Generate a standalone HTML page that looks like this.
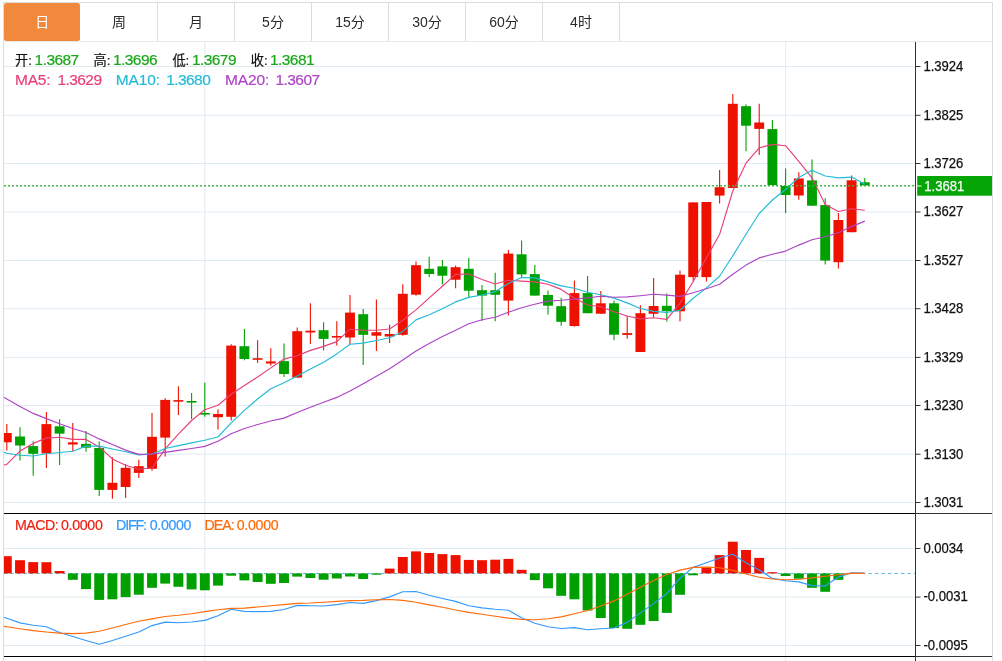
<!DOCTYPE html>
<html lang="zh-CN"><head><meta charset="utf-8"><title>K线图</title>
<style>
html,body{margin:0;padding:0;background:#fff;}
body{width:1002px;height:661px;position:relative;overflow:hidden;font-family:"Liberation Sans","Noto Sans CJK SC",sans-serif;}
.tabs{position:absolute;left:3px;top:2px;width:988px;height:38px;border:1px solid #dddddd;border-bottom-color:#e8e8e8;background:#fff;}
.tab{position:absolute;top:0;height:38px;width:76px;line-height:39px;text-align:center;font-size:14px;color:#2b2b2b;border-right:1px solid #dcdcdc;}
.tab.on{background:#f1893d;color:#fff;border-radius:2.5px;border-right:none;width:76.4px;top:0px;}
.chart{position:absolute;left:0;top:0;}
</style></head><body>
<div class="tabs"><div class="tab on" style="left:0px">日</div><div class="tab" style="left:77px">周</div><div class="tab" style="left:154px">月</div><div class="tab" style="left:231px">5分</div><div class="tab" style="left:308px">15分</div><div class="tab" style="left:385px">30分</div><div class="tab" style="left:462px">60分</div><div class="tab" style="left:539px">4时</div></div>
<svg class="chart" width="1002" height="661" viewBox="0 0 1002 661">
<defs><clipPath id="clipMain"><rect x="4" y="42" width="911.5" height="471"/></clipPath><clipPath id="clipSub"><rect x="4" y="514" width="911.5" height="142"/></clipPath></defs>
<g stroke="#e0ecf3" stroke-width="1" fill="none">
<line x1="4" y1="66.5" x2="915" y2="66.5"/>
<line x1="4" y1="115.3" x2="915" y2="115.3"/>
<line x1="4" y1="163.5" x2="915" y2="163.5"/>
<line x1="4" y1="212" x2="915" y2="212"/>
<line x1="4" y1="260.5" x2="915" y2="260.5"/>
<line x1="4" y1="308.7" x2="915" y2="308.7"/>
<line x1="4" y1="357.4" x2="915" y2="357.4"/>
<line x1="4" y1="405.5" x2="915" y2="405.5"/>
<line x1="4" y1="454.2" x2="915" y2="454.2"/>
<line x1="4" y1="502.5" x2="915" y2="502.5"/>
<line x1="4" y1="548.5" x2="915" y2="548.5"/>
<line x1="4" y1="597.1" x2="915" y2="597.1"/>
<line x1="4" y1="645.5" x2="915" y2="645.5"/>
<line x1="204.8" y1="42" x2="204.8" y2="661"/>
<line x1="785.6" y1="42" x2="785.6" y2="661"/>
</g>
<line x1="3.5" y1="42" x2="3.5" y2="661" stroke="#dcdcdc" stroke-width="1"/>
<line x1="992.5" y1="42" x2="992.5" y2="661" stroke="#dcdcdc" stroke-width="1"/>
<line x1="4" y1="573.5" x2="915" y2="573.5" stroke="#5cb9e7" stroke-width="1" stroke-dasharray="3.3 3.2"/>
<g clip-path="url(#clipSub)">
<rect x="1.85" y="556.2" width="9.9" height="17.2" fill="#ee1100"/>
<rect x="15.05" y="560.2" width="9.9" height="13.2" fill="#ee1100"/>
<rect x="28.25" y="562.1" width="9.9" height="11.3" fill="#ee1100"/>
<rect x="41.45" y="562.2" width="9.9" height="11.2" fill="#ee1100"/>
<rect x="54.65" y="571" width="9.9" height="2.4" fill="#ee1100"/>
<rect x="67.85" y="573.4" width="9.9" height="6.4" fill="#00a000"/>
<rect x="81.05" y="573.4" width="9.9" height="15.7" fill="#00a000"/>
<rect x="94.25" y="573.4" width="9.9" height="26.5" fill="#00a000"/>
<rect x="107.45" y="573.4" width="9.9" height="25.9" fill="#00a000"/>
<rect x="120.65" y="573.4" width="9.9" height="23.7" fill="#00a000"/>
<rect x="133.85" y="573.4" width="9.9" height="21.3" fill="#00a000"/>
<rect x="147.05" y="573.4" width="9.9" height="14.4" fill="#00a000"/>
<rect x="160.25" y="573.4" width="9.9" height="10.2" fill="#00a000"/>
<rect x="173.45" y="573.4" width="9.9" height="13.4" fill="#00a000"/>
<rect x="186.65" y="573.4" width="9.9" height="16" fill="#00a000"/>
<rect x="199.85" y="573.4" width="9.9" height="16.9" fill="#00a000"/>
<rect x="213.05" y="573.4" width="9.9" height="12.2" fill="#00a000"/>
<rect x="226.25" y="573.4" width="9.9" height="2.3" fill="#00a000"/>
<rect x="239.45" y="573.4" width="9.9" height="7" fill="#00a000"/>
<rect x="252.65" y="573.4" width="9.9" height="8.6" fill="#00a000"/>
<rect x="265.85" y="573.4" width="9.9" height="10.4" fill="#00a000"/>
<rect x="279.05" y="573.4" width="9.9" height="9.6" fill="#00a000"/>
<rect x="292.25" y="573.4" width="9.9" height="3.2" fill="#00a000"/>
<rect x="305.45" y="573.4" width="9.9" height="4.6" fill="#00a000"/>
<rect x="318.65" y="573.4" width="9.9" height="6.3" fill="#00a000"/>
<rect x="331.85" y="573.4" width="9.9" height="5.1" fill="#00a000"/>
<rect x="345.05" y="573.4" width="9.9" height="3.1" fill="#00a000"/>
<rect x="358.25" y="573.4" width="9.9" height="5.6" fill="#00a000"/>
<rect x="371.45" y="573.4" width="9.9" height="1.3" fill="#00a000"/>
<rect x="384.65" y="568.6" width="9.9" height="4.8" fill="#ee1100"/>
<rect x="397.85" y="557" width="9.9" height="16.4" fill="#ee1100"/>
<rect x="411.05" y="551.4" width="9.9" height="22" fill="#ee1100"/>
<rect x="424.25" y="553" width="9.9" height="20.4" fill="#ee1100"/>
<rect x="437.45" y="554.1" width="9.9" height="19.3" fill="#ee1100"/>
<rect x="450.65" y="555.1" width="9.9" height="18.3" fill="#ee1100"/>
<rect x="463.85" y="559.9" width="9.9" height="13.5" fill="#ee1100"/>
<rect x="477.05" y="560.2" width="9.9" height="13.2" fill="#ee1100"/>
<rect x="490.25" y="559.7" width="9.9" height="13.7" fill="#ee1100"/>
<rect x="503.45" y="558.9" width="9.9" height="14.5" fill="#ee1100"/>
<rect x="516.65" y="569.8" width="9.9" height="3.6" fill="#ee1100"/>
<rect x="529.85" y="573.4" width="9.9" height="6.7" fill="#00a000"/>
<rect x="543.05" y="573.4" width="9.9" height="14.9" fill="#00a000"/>
<rect x="556.25" y="573.4" width="9.9" height="22.4" fill="#00a000"/>
<rect x="569.45" y="573.4" width="9.9" height="25.9" fill="#00a000"/>
<rect x="582.65" y="573.4" width="9.9" height="37.1" fill="#00a000"/>
<rect x="595.85" y="573.4" width="9.9" height="44.6" fill="#00a000"/>
<rect x="609.05" y="573.4" width="9.9" height="54.6" fill="#00a000"/>
<rect x="622.25" y="573.4" width="9.9" height="55.4" fill="#00a000"/>
<rect x="635.45" y="573.4" width="9.9" height="51.4" fill="#00a000"/>
<rect x="648.65" y="573.4" width="9.9" height="47.6" fill="#00a000"/>
<rect x="661.85" y="573.4" width="9.9" height="39.5" fill="#00a000"/>
<rect x="675.05" y="573.4" width="9.9" height="21.4" fill="#00a000"/>
<rect x="688.25" y="573.4" width="9.9" height="1.9" fill="#00a000"/>
<rect x="701.45" y="567.6" width="9.9" height="5.8" fill="#ee1100"/>
<rect x="714.65" y="555.1" width="9.9" height="18.3" fill="#ee1100"/>
<rect x="727.85" y="541.7" width="9.9" height="31.7" fill="#ee1100"/>
<rect x="741.05" y="550" width="9.9" height="23.4" fill="#ee1100"/>
<rect x="754.25" y="557.9" width="9.9" height="15.5" fill="#ee1100"/>
<rect x="767.45" y="572.2" width="9.9" height="1.2" fill="#ee1100"/>
<rect x="780.65" y="573.4" width="9.9" height="2.6" fill="#00a000"/>
<rect x="793.85" y="573.4" width="9.9" height="5.3" fill="#00a000"/>
<rect x="807.05" y="573.4" width="9.9" height="14.4" fill="#00a000"/>
<rect x="820.25" y="573.4" width="9.9" height="18.4" fill="#00a000"/>
<rect x="833.45" y="573.4" width="9.9" height="6.4" fill="#00a000"/>
<rect x="846.65" y="572.9" width="9.9" height="0.5" fill="#ee1100"/>
<polyline points="-6.4,613.7 6.8,618.3 20,622.9 33.2,625.3 46.4,626.8 59.6,632.5 72.8,636.5 86,640.5 99.2,644.3 112.4,640.5 125.6,636.3 138.8,632 152,625.6 165.2,622.1 178.4,622.8 191.6,622 204.8,620.4 218,615.7 231.2,609.2 244.4,611.4 257.6,611.6 270.8,611.4 284,609.5 297.2,605.4 310.4,605.7 323.6,606 336.8,604.6 350,602.5 363.2,603.4 376.4,600.6 389.6,596.9 402.8,591.8 416,591.5 429.2,595.3 442.4,598.5 455.6,601.4 468.8,605.7 482,607.9 495.2,609.2 508.4,610.2 521.6,617.7 534.8,623.2 548,626.8 561.2,628.5 574.4,627.6 587.6,629.8 600.8,628.8 614,628 627.2,622.4 640.4,612.9 653.6,603.6 666.8,593.7 680,578.2 693.2,567.4 706.4,562.8 719.6,558 732.8,554.3 746,562.7 759.2,570 772.4,578.4 785.6,580.8 798.8,581.9 812,585.6 825.2,585.9 838.4,577.1 851.6,572.8 864.8,573.1" fill="none" stroke="#3399ff" stroke-width="1.15" stroke-linejoin="round"/>
<polyline points="-6.4,624.8 6.8,626.8 20,628.8 33.2,630.6 46.4,632 59.6,633.1 72.8,633.6 86,633.1 99.2,631.2 112.4,628 125.6,624.5 138.8,621.3 152,618.9 165.2,616.5 178.4,615.3 191.6,613.7 204.8,611.6 218,609.7 231.2,608.4 244.4,608.1 257.6,607 270.8,605.7 284,604.6 297.2,603.4 310.4,603 323.6,602.2 336.8,601.4 350,600.6 363.2,600.4 376.4,599.8 389.6,599.5 402.8,600.4 416,602.2 429.2,604.9 442.4,607.3 455.6,610 468.8,612.4 482,614.3 495.2,616.2 508.4,618.1 521.6,619.4 534.8,619.7 548,618.8 561.2,616.9 574.4,613.8 587.6,610.5 600.8,606 614,600.9 627.2,594.2 640.4,587.3 653.6,580.4 666.8,574.5 680,570.1 693.2,567.4 706.4,567.1 719.6,567.8 732.8,570.4 746,574 759.2,577.2 772.4,579 785.6,579.7 798.8,579.2 812,577.9 825.2,576.3 838.4,574.7 851.6,573.4 864.8,573.4" fill="none" stroke="#ff6a0a" stroke-width="1.15" stroke-linejoin="round"/>
</g>
<g clip-path="url(#clipMain)">
<line x1="6.8" y1="424.1" x2="6.8" y2="450.6" stroke="#ee1100" stroke-width="1.1"/>
<rect x="1.85" y="433" width="9.9" height="9.3" fill="#ee1100"/>
<line x1="20" y1="427.3" x2="20" y2="460.5" stroke="#00a000" stroke-width="1.1"/>
<rect x="15.05" y="436.5" width="9.9" height="9" fill="#00a000"/>
<line x1="33.2" y1="441.3" x2="33.2" y2="475.8" stroke="#00a000" stroke-width="1.1"/>
<rect x="28.25" y="446.1" width="9.9" height="7.7" fill="#00a000"/>
<line x1="46.4" y1="411.9" x2="46.4" y2="468.1" stroke="#ee1100" stroke-width="1.1"/>
<rect x="41.45" y="424.1" width="9.9" height="29.3" fill="#ee1100"/>
<line x1="59.6" y1="419.3" x2="59.6" y2="464.9" stroke="#00a000" stroke-width="1.1"/>
<rect x="54.65" y="426.3" width="9.9" height="7.3" fill="#00a000"/>
<line x1="72.8" y1="422.9" x2="72.8" y2="451.2" stroke="#ee1100" stroke-width="1.1"/>
<rect x="67.85" y="442.3" width="9.9" height="2.2" fill="#ee1100"/>
<line x1="86" y1="430.9" x2="86" y2="451.8" stroke="#00a000" stroke-width="1.1"/>
<rect x="81.05" y="443.9" width="9.9" height="3.8" fill="#00a000"/>
<line x1="99.2" y1="441.6" x2="99.2" y2="495.9" stroke="#00a000" stroke-width="1.1"/>
<rect x="94.25" y="448" width="9.9" height="41.9" fill="#00a000"/>
<line x1="112.4" y1="457.3" x2="112.4" y2="498.8" stroke="#ee1100" stroke-width="1.1"/>
<rect x="107.45" y="482.8" width="9.9" height="7.1" fill="#ee1100"/>
<line x1="125.6" y1="464" x2="125.6" y2="498" stroke="#ee1100" stroke-width="1.1"/>
<rect x="120.65" y="467.8" width="9.9" height="19.2" fill="#ee1100"/>
<line x1="138.8" y1="459.8" x2="138.8" y2="478" stroke="#ee1100" stroke-width="1.1"/>
<rect x="133.85" y="466.2" width="9.9" height="6.7" fill="#ee1100"/>
<line x1="152" y1="412.9" x2="152" y2="470.7" stroke="#ee1100" stroke-width="1.1"/>
<rect x="147.05" y="436.8" width="9.9" height="32" fill="#ee1100"/>
<line x1="165.2" y1="398.2" x2="165.2" y2="456.4" stroke="#ee1100" stroke-width="1.1"/>
<rect x="160.25" y="399.9" width="9.9" height="37.7" fill="#ee1100"/>
<line x1="178.4" y1="386.2" x2="178.4" y2="414.9" stroke="#ee1100" stroke-width="1.1"/>
<rect x="173.45" y="400.1" width="9.9" height="1.6" fill="#ee1100"/>
<line x1="191.6" y1="393" x2="191.6" y2="418.9" stroke="#00a000" stroke-width="1.1"/>
<rect x="186.65" y="401" width="9.9" height="1.6" fill="#00a000"/>
<line x1="204.8" y1="382.7" x2="204.8" y2="416.8" stroke="#00a000" stroke-width="1.1"/>
<rect x="199.85" y="413" width="9.9" height="1.6" fill="#00a000"/>
<line x1="218" y1="409.2" x2="218" y2="429.6" stroke="#ee1100" stroke-width="1.1"/>
<rect x="213.05" y="414" width="9.9" height="3.2" fill="#ee1100"/>
<line x1="231.2" y1="344.3" x2="231.2" y2="420.5" stroke="#ee1100" stroke-width="1.1"/>
<rect x="226.25" y="345.6" width="9.9" height="71.2" fill="#ee1100"/>
<line x1="244.4" y1="329.1" x2="244.4" y2="360.3" stroke="#00a000" stroke-width="1.1"/>
<rect x="239.45" y="346.2" width="9.9" height="12.8" fill="#00a000"/>
<line x1="257.6" y1="340.3" x2="257.6" y2="363" stroke="#ee1100" stroke-width="1.1"/>
<rect x="252.65" y="358.2" width="9.9" height="1.6" fill="#ee1100"/>
<line x1="270.8" y1="348.3" x2="270.8" y2="365.8" stroke="#ee1100" stroke-width="1.1"/>
<rect x="265.85" y="361.4" width="9.9" height="2.1" fill="#ee1100"/>
<line x1="284" y1="343.5" x2="284" y2="377" stroke="#00a000" stroke-width="1.1"/>
<rect x="279.05" y="361.1" width="9.9" height="12.9" fill="#00a000"/>
<line x1="297.2" y1="327.5" x2="297.2" y2="377.6" stroke="#ee1100" stroke-width="1.1"/>
<rect x="292.25" y="331.2" width="9.9" height="46.4" fill="#ee1100"/>
<line x1="310.4" y1="303.3" x2="310.4" y2="344" stroke="#ee1100" stroke-width="1.1"/>
<rect x="305.45" y="330.7" width="9.9" height="1.8" fill="#ee1100"/>
<line x1="323.6" y1="322.3" x2="323.6" y2="350.4" stroke="#00a000" stroke-width="1.1"/>
<rect x="318.65" y="330.2" width="9.9" height="8.7" fill="#00a000"/>
<line x1="336.8" y1="321.3" x2="336.8" y2="345.4" stroke="#ee1100" stroke-width="1.1"/>
<rect x="331.85" y="336" width="9.9" height="1.6" fill="#ee1100"/>
<line x1="350" y1="295" x2="350" y2="343.9" stroke="#ee1100" stroke-width="1.1"/>
<rect x="345.05" y="312.6" width="9.9" height="24.9" fill="#ee1100"/>
<line x1="363.2" y1="309.1" x2="363.2" y2="365.1" stroke="#00a000" stroke-width="1.1"/>
<rect x="358.25" y="314.2" width="9.9" height="20.6" fill="#00a000"/>
<line x1="376.4" y1="299.5" x2="376.4" y2="350.9" stroke="#ee1100" stroke-width="1.1"/>
<rect x="371.45" y="332.2" width="9.9" height="3.5" fill="#ee1100"/>
<line x1="389.6" y1="324.7" x2="389.6" y2="342.9" stroke="#ee1100" stroke-width="1.1"/>
<rect x="384.65" y="334" width="9.9" height="2.5" fill="#ee1100"/>
<line x1="402.8" y1="284.2" x2="402.8" y2="335.7" stroke="#ee1100" stroke-width="1.1"/>
<rect x="397.85" y="293.8" width="9.9" height="41" fill="#ee1100"/>
<line x1="416" y1="261.5" x2="416" y2="295.8" stroke="#ee1100" stroke-width="1.1"/>
<rect x="411.05" y="265.2" width="9.9" height="29.5" fill="#ee1100"/>
<line x1="429.2" y1="256.7" x2="429.2" y2="277.1" stroke="#00a000" stroke-width="1.1"/>
<rect x="424.25" y="268.8" width="9.9" height="5.2" fill="#00a000"/>
<line x1="442.4" y1="260.1" x2="442.4" y2="284.6" stroke="#00a000" stroke-width="1.1"/>
<rect x="437.45" y="266.4" width="9.9" height="9.3" fill="#00a000"/>
<line x1="455.6" y1="265.6" x2="455.6" y2="288.3" stroke="#ee1100" stroke-width="1.1"/>
<rect x="450.65" y="267.2" width="9.9" height="12.5" fill="#ee1100"/>
<line x1="468.8" y1="258" x2="468.8" y2="297.1" stroke="#00a000" stroke-width="1.1"/>
<rect x="463.85" y="268.8" width="9.9" height="21.9" fill="#00a000"/>
<line x1="482" y1="285.1" x2="482" y2="321" stroke="#00a000" stroke-width="1.1"/>
<rect x="477.05" y="290.2" width="9.9" height="5.4" fill="#00a000"/>
<line x1="495.2" y1="272.7" x2="495.2" y2="321.3" stroke="#00a000" stroke-width="1.1"/>
<rect x="490.25" y="290.2" width="9.9" height="4.6" fill="#00a000"/>
<line x1="508.4" y1="250" x2="508.4" y2="315.4" stroke="#ee1100" stroke-width="1.1"/>
<rect x="503.45" y="253.6" width="9.9" height="47" fill="#ee1100"/>
<line x1="521.6" y1="240.4" x2="521.6" y2="277.6" stroke="#00a000" stroke-width="1.1"/>
<rect x="516.65" y="254.3" width="9.9" height="20.1" fill="#00a000"/>
<line x1="534.8" y1="265.1" x2="534.8" y2="295.6" stroke="#00a000" stroke-width="1.1"/>
<rect x="529.85" y="274.1" width="9.9" height="21.5" fill="#00a000"/>
<line x1="548" y1="290.4" x2="548" y2="314.6" stroke="#00a000" stroke-width="1.1"/>
<rect x="543.05" y="295" width="9.9" height="10.7" fill="#00a000"/>
<line x1="561.2" y1="297.7" x2="561.2" y2="325.8" stroke="#00a000" stroke-width="1.1"/>
<rect x="556.25" y="306.2" width="9.9" height="15.6" fill="#00a000"/>
<line x1="574.4" y1="280.5" x2="574.4" y2="326.8" stroke="#ee1100" stroke-width="1.1"/>
<rect x="569.45" y="293.1" width="9.9" height="32.9" fill="#ee1100"/>
<line x1="587.6" y1="276" x2="587.6" y2="313.2" stroke="#00a000" stroke-width="1.1"/>
<rect x="582.65" y="293.1" width="9.9" height="20.1" fill="#00a000"/>
<line x1="600.8" y1="291" x2="600.8" y2="313.7" stroke="#ee1100" stroke-width="1.1"/>
<rect x="595.85" y="303.3" width="9.9" height="10.4" fill="#ee1100"/>
<line x1="614" y1="300.4" x2="614" y2="340.3" stroke="#00a000" stroke-width="1.1"/>
<rect x="609.05" y="303.3" width="9.9" height="31.4" fill="#00a000"/>
<line x1="627.2" y1="315.9" x2="627.2" y2="338.7" stroke="#ee1100" stroke-width="1.1"/>
<rect x="622.25" y="333.1" width="9.9" height="1.8" fill="#ee1100"/>
<line x1="640.4" y1="305.3" x2="640.4" y2="352" stroke="#ee1100" stroke-width="1.1"/>
<rect x="635.45" y="313.2" width="9.9" height="38.8" fill="#ee1100"/>
<line x1="653.6" y1="277.9" x2="653.6" y2="317.2" stroke="#ee1100" stroke-width="1.1"/>
<rect x="648.65" y="306" width="9.9" height="7.8" fill="#ee1100"/>
<line x1="666.8" y1="293.5" x2="666.8" y2="321.6" stroke="#00a000" stroke-width="1.1"/>
<rect x="661.85" y="305.8" width="9.9" height="5.3" fill="#00a000"/>
<line x1="680" y1="270.4" x2="680" y2="321.3" stroke="#ee1100" stroke-width="1.1"/>
<rect x="675.05" y="274.7" width="9.9" height="36.6" fill="#ee1100"/>
<line x1="693.2" y1="202.4" x2="693.2" y2="281.4" stroke="#ee1100" stroke-width="1.1"/>
<rect x="688.25" y="202.4" width="9.9" height="74.7" fill="#ee1100"/>
<line x1="706.4" y1="202" x2="706.4" y2="281.4" stroke="#ee1100" stroke-width="1.1"/>
<rect x="701.45" y="202" width="9.9" height="75.1" fill="#ee1100"/>
<line x1="719.6" y1="170" x2="719.6" y2="203.6" stroke="#ee1100" stroke-width="1.1"/>
<rect x="714.65" y="187.2" width="9.9" height="8.4" fill="#ee1100"/>
<line x1="732.8" y1="94.1" x2="732.8" y2="188" stroke="#ee1100" stroke-width="1.1"/>
<rect x="727.85" y="103.8" width="9.9" height="84.2" fill="#ee1100"/>
<line x1="746" y1="104.5" x2="746" y2="151.3" stroke="#00a000" stroke-width="1.1"/>
<rect x="741.05" y="106.2" width="9.9" height="19.5" fill="#00a000"/>
<line x1="759.2" y1="103.8" x2="759.2" y2="154.9" stroke="#ee1100" stroke-width="1.1"/>
<rect x="754.25" y="122.5" width="9.9" height="6.4" fill="#ee1100"/>
<line x1="772.4" y1="120.1" x2="772.4" y2="185.1" stroke="#00a000" stroke-width="1.1"/>
<rect x="767.45" y="129.1" width="9.9" height="56" fill="#00a000"/>
<line x1="785.6" y1="168.4" x2="785.6" y2="213" stroke="#00a000" stroke-width="1.1"/>
<rect x="780.65" y="185.9" width="9.9" height="9.1" fill="#00a000"/>
<line x1="798.8" y1="172.3" x2="798.8" y2="199.7" stroke="#ee1100" stroke-width="1.1"/>
<rect x="793.85" y="178.5" width="9.9" height="17" fill="#ee1100"/>
<line x1="812" y1="159.6" x2="812" y2="205.7" stroke="#00a000" stroke-width="1.1"/>
<rect x="807.05" y="180.4" width="9.9" height="25.3" fill="#00a000"/>
<line x1="825.2" y1="198.2" x2="825.2" y2="264.6" stroke="#00a000" stroke-width="1.1"/>
<rect x="820.25" y="205.1" width="9.9" height="55.5" fill="#00a000"/>
<line x1="838.4" y1="212.9" x2="838.4" y2="268.6" stroke="#ee1100" stroke-width="1.1"/>
<rect x="833.45" y="220" width="9.9" height="42.2" fill="#ee1100"/>
<line x1="851.6" y1="175.5" x2="851.6" y2="232.2" stroke="#ee1100" stroke-width="1.1"/>
<rect x="846.65" y="180.3" width="9.9" height="51.9" fill="#ee1100"/>
<line x1="864.8" y1="177.9" x2="864.8" y2="185.4" stroke="#00a000" stroke-width="1.1"/>
<rect x="859.85" y="182.3" width="9.9" height="3.1" fill="#00a000"/>
<polyline points="-6.4,468.5 6.8,464.3 20,451.1 33.2,443.4 46.4,438.1 59.6,437.3 72.8,439.4 86,439.4 99.2,446.9 112.4,458.9 125.6,465.3 138.8,469.3 152,468 165.2,448.8 178.4,434.1 191.6,420.5 204.8,409.8 218,405.3 231.2,394.2 244.4,385.6 257.6,377 270.8,367.9 284,359.1 297.2,355.8 310.4,350.4 323.6,346.4 336.8,341.6 350,329.2 363.2,330.2 376.4,330.3 389.6,329 402.8,320.3 416,309.9 429.2,297.9 442.4,286.2 455.6,274.4 468.8,274 482,279.5 495.2,284 508.4,280.3 521.6,281.1 534.8,281.9 548,284.3 561.2,289.4 574.4,298.3 587.6,305 600.8,306.8 614,311.8 627.2,316 640.4,318.9 653.6,317.8 666.8,319.4 680,303.1 693.2,281.5 706.4,258 719.6,234.3 732.8,191 746,163.2 759.2,147.8 772.4,144.4 785.6,145.7 798.8,161.4 812,177.8 825.2,204.6 838.4,211.5 851.6,208.8 864.8,210.2" fill="none" stroke="#e83f7a" stroke-width="1.15" stroke-linejoin="round"/>
<polyline points="-6.4,449 6.8,453.2 20,455.2 33.2,456 46.4,453.8 59.6,452.5 72.8,451.2 86,446.1 99.2,446.1 112.4,449 125.6,451.7 138.8,454.9 152,454 165.2,448.5 178.4,445.6 191.6,442.9 204.8,440.2 218,437 231.2,422.9 244.4,410.4 257.6,399 270.8,388.8 284,382.8 297.2,376 310.4,369 323.6,362.2 336.8,353.9 350,344.2 363.2,343.1 376.4,340.5 389.6,337.8 402.8,331.4 416,319.9 429.2,314.7 442.4,308.8 455.6,301.9 468.8,297.4 482,295 495.2,291.6 508.4,283.5 521.6,277.6 534.8,277.9 548,281.9 561.2,285.9 574.4,288.3 587.6,292.3 600.8,294.7 614,298.1 627.2,302.9 640.4,308.5 653.6,311.4 666.8,312.4 680,310.3 693.2,298.3 706.4,287.9 719.6,276.3 732.8,255.8 746,234.3 759.2,213.5 772.4,200 785.6,189.5 798.8,177.5 812,170.3 825.2,176 838.4,177.9 851.6,177.1 864.8,184.3" fill="none" stroke="#22bbd8" stroke-width="1.15" stroke-linejoin="round"/>
<polyline points="-6.4,391.5 6.8,399 20,406.5 33.2,413.4 46.4,418.6 59.6,423.7 72.8,428.5 86,432.5 99.2,438.9 112.4,444.5 125.6,450.1 138.8,454.4 152,454 165.2,452.4 178.4,450.4 191.6,448.5 204.8,446.4 218,441.3 231.2,433.8 244.4,428.5 257.6,424.5 270.8,421 284,418.1 297.2,412.5 310.4,407.2 323.6,402.2 336.8,397.4 350,391 363.2,383.8 376.4,376.3 389.6,368.7 402.8,359.9 416,351 429.2,343.6 442.4,336.6 455.6,330.2 468.8,323.8 482,319.7 495.2,317.2 508.4,312.2 521.6,307.8 534.8,304.3 548,301.1 561.2,300.3 574.4,299 587.6,297.9 600.8,296.3 614,297.3 627.2,296.9 640.4,295.7 653.6,294.3 666.8,295.1 680,296.4 693.2,292.7 706.4,288.7 719.6,284.3 732.8,274.3 746,265.1 759.2,257.9 772.4,254.3 785.6,251.1 798.8,245.1 812,239.8 825.2,236.8 838.4,232.8 851.6,226.6 864.8,221.1" fill="none" stroke="#ae44c6" stroke-width="1.15" stroke-linejoin="round"/>
</g>
<line x1="4.1" y1="185.8" x2="915" y2="185.8" stroke="#3ab53a" stroke-width="1.6" stroke-dasharray="1.9 2.1"/>
<g stroke="#333" stroke-width="1">
<line x1="915.5" y1="42" x2="915.5" y2="661"/>
<line x1="4" y1="513.5" x2="915" y2="513.5" stroke="#000"/>
<line x1="915" y1="513.5" x2="992" y2="513.5"/>
<line x1="4" y1="656.5" x2="915" y2="656.5" stroke="#000"/>
<line x1="915" y1="656.5" x2="992" y2="656.5"/>
<line x1="916" y1="66.5" x2="920.5" y2="66.5"/>
<line x1="916" y1="115.3" x2="920.5" y2="115.3"/>
<line x1="916" y1="163.5" x2="920.5" y2="163.5"/>
<line x1="916" y1="212" x2="920.5" y2="212"/>
<line x1="916" y1="260.5" x2="920.5" y2="260.5"/>
<line x1="916" y1="308.7" x2="920.5" y2="308.7"/>
<line x1="916" y1="357.4" x2="920.5" y2="357.4"/>
<line x1="916" y1="405.5" x2="920.5" y2="405.5"/>
<line x1="916" y1="454.2" x2="920.5" y2="454.2"/>
<line x1="916" y1="502.5" x2="920.5" y2="502.5"/>
<line x1="916" y1="548.5" x2="920.5" y2="548.5"/>
<line x1="916" y1="597.1" x2="920.5" y2="597.1"/>
<line x1="916" y1="645.5" x2="920.5" y2="645.5"/>
</g>
<g font-family="Liberation Sans, sans-serif" font-size="14.3" fill="#111" stroke="#111" stroke-width="0.25">
<text x="923.4" y="70.8" textLength="40" lengthAdjust="spacingAndGlyphs">1.3924</text>
<text x="923.4" y="119.6" textLength="40" lengthAdjust="spacingAndGlyphs">1.3825</text>
<text x="923.4" y="167.8" textLength="40" lengthAdjust="spacingAndGlyphs">1.3726</text>
<text x="923.4" y="216.3" textLength="40" lengthAdjust="spacingAndGlyphs">1.3627</text>
<text x="923.4" y="264.8" textLength="40" lengthAdjust="spacingAndGlyphs">1.3527</text>
<text x="923.4" y="313" textLength="40" lengthAdjust="spacingAndGlyphs">1.3428</text>
<text x="923.4" y="361.7" textLength="40" lengthAdjust="spacingAndGlyphs">1.3329</text>
<text x="923.4" y="409.8" textLength="40" lengthAdjust="spacingAndGlyphs">1.3230</text>
<text x="923.4" y="458.5" textLength="40" lengthAdjust="spacingAndGlyphs">1.3130</text>
<text x="923.4" y="506.8" textLength="40" lengthAdjust="spacingAndGlyphs">1.3031</text>
<text x="923.4" y="552.8" textLength="40" lengthAdjust="spacingAndGlyphs">0.0034</text>
<text x="923.4" y="601.4" textLength="44.5" lengthAdjust="spacingAndGlyphs">-0.0031</text>
<text x="923.4" y="649.8" textLength="44.5" lengthAdjust="spacingAndGlyphs">-0.0095</text>
</g>
<rect x="917.2" y="176" width="74.8" height="19.7" fill="#04a504"/>
<line x1="917.2" y1="186" x2="921.5" y2="186" stroke="#fff" stroke-width="1"/>
<text x="924.3" y="190.9" font-family="Liberation Sans, sans-serif" font-size="14.3" fill="#fff" stroke="#fff" stroke-width="0.25" textLength="40" lengthAdjust="spacingAndGlyphs">1.3681</text>
<text x="15" y="64.7" font-family="Liberation Sans, Noto Sans CJK SC, sans-serif" font-size="13.2" fill="#111" stroke="#111" stroke-width="0.2">开:</text>
<text x="34.6" y="64.6" font-family="Liberation Sans, Noto Sans CJK SC, sans-serif" font-size="15.5" fill="#18a818" stroke="#18a818" stroke-width="0.2" textLength="44.6" lengthAdjust="spacing">1.3687</text>
<text x="93.6" y="64.7" font-family="Liberation Sans, Noto Sans CJK SC, sans-serif" font-size="13.2" fill="#111" stroke="#111" stroke-width="0.2">高:</text>
<text x="113" y="64.6" font-family="Liberation Sans, Noto Sans CJK SC, sans-serif" font-size="15.5" fill="#18a818" stroke="#18a818" stroke-width="0.2" textLength="44.6" lengthAdjust="spacing">1.3696</text>
<text x="172.4" y="64.7" font-family="Liberation Sans, Noto Sans CJK SC, sans-serif" font-size="13.2" fill="#111" stroke="#111" stroke-width="0.2">低:</text>
<text x="191.9" y="64.6" font-family="Liberation Sans, Noto Sans CJK SC, sans-serif" font-size="15.5" fill="#18a818" stroke="#18a818" stroke-width="0.2" textLength="44.6" lengthAdjust="spacing">1.3679</text>
<text x="250.8" y="64.7" font-family="Liberation Sans, Noto Sans CJK SC, sans-serif" font-size="13.2" fill="#111" stroke="#111" stroke-width="0.2">收:</text>
<text x="270" y="64.6" font-family="Liberation Sans, Noto Sans CJK SC, sans-serif" font-size="15.5" fill="#18a818" stroke="#18a818" stroke-width="0.2" textLength="44.6" lengthAdjust="spacing">1.3681</text>
<text x="15" y="84.6" font-family="Liberation Sans, Noto Sans CJK SC, sans-serif" font-size="15.5" fill="#e83f7a" stroke="#e83f7a" stroke-width="0.2" textLength="35.5" lengthAdjust="spacing">MA5:</text>
<text x="57.4" y="84.6" font-family="Liberation Sans, Noto Sans CJK SC, sans-serif" font-size="15.5" fill="#e83f7a" stroke="#e83f7a" stroke-width="0.2" textLength="44.6" lengthAdjust="spacing">1.3629</text>
<text x="115.8" y="84.6" font-family="Liberation Sans, Noto Sans CJK SC, sans-serif" font-size="15.5" fill="#22bbd8" stroke="#22bbd8" stroke-width="0.2" textLength="44.2" lengthAdjust="spacing">MA10:</text>
<text x="166.2" y="84.6" font-family="Liberation Sans, Noto Sans CJK SC, sans-serif" font-size="15.5" fill="#22bbd8" stroke="#22bbd8" stroke-width="0.2" textLength="44.6" lengthAdjust="spacing">1.3680</text>
<text x="225" y="84.6" font-family="Liberation Sans, Noto Sans CJK SC, sans-serif" font-size="15.5" fill="#ae44c6" stroke="#ae44c6" stroke-width="0.2" textLength="44.2" lengthAdjust="spacing">MA20:</text>
<text x="275.5" y="84.6" font-family="Liberation Sans, Noto Sans CJK SC, sans-serif" font-size="15.5" fill="#ae44c6" stroke="#ae44c6" stroke-width="0.2" textLength="44.6" lengthAdjust="spacing">1.3607</text>
<text x="15" y="530.1" font-family="Liberation Sans, Noto Sans CJK SC, sans-serif" font-size="14.2" fill="#ee2211" stroke="#ee2211" stroke-width="0.2" textLength="43.6" lengthAdjust="spacing">MACD:</text>
<text x="61" y="530.1" font-family="Liberation Sans, Noto Sans CJK SC, sans-serif" font-size="14.2" fill="#ee2211" stroke="#ee2211" stroke-width="0.2" textLength="41.8" lengthAdjust="spacing">0.0000</text>
<text x="116" y="530.1" font-family="Liberation Sans, Noto Sans CJK SC, sans-serif" font-size="14.2" fill="#3399ff" stroke="#3399ff" stroke-width="0.2" textLength="31" lengthAdjust="spacing">DIFF:</text>
<text x="149.7" y="530.1" font-family="Liberation Sans, Noto Sans CJK SC, sans-serif" font-size="14.2" fill="#3399ff" stroke="#3399ff" stroke-width="0.2" textLength="41.8" lengthAdjust="spacing">0.0000</text>
<text x="204.6" y="530.1" font-family="Liberation Sans, Noto Sans CJK SC, sans-serif" font-size="14.2" fill="#ff6a0a" stroke="#ff6a0a" stroke-width="0.2" textLength="30" lengthAdjust="spacing">DEA:</text>
<text x="236.8" y="530.1" font-family="Liberation Sans, Noto Sans CJK SC, sans-serif" font-size="14.2" fill="#ff6a0a" stroke="#ff6a0a" stroke-width="0.2" textLength="41.8" lengthAdjust="spacing">0.0000</text>
</svg>
</body></html>
